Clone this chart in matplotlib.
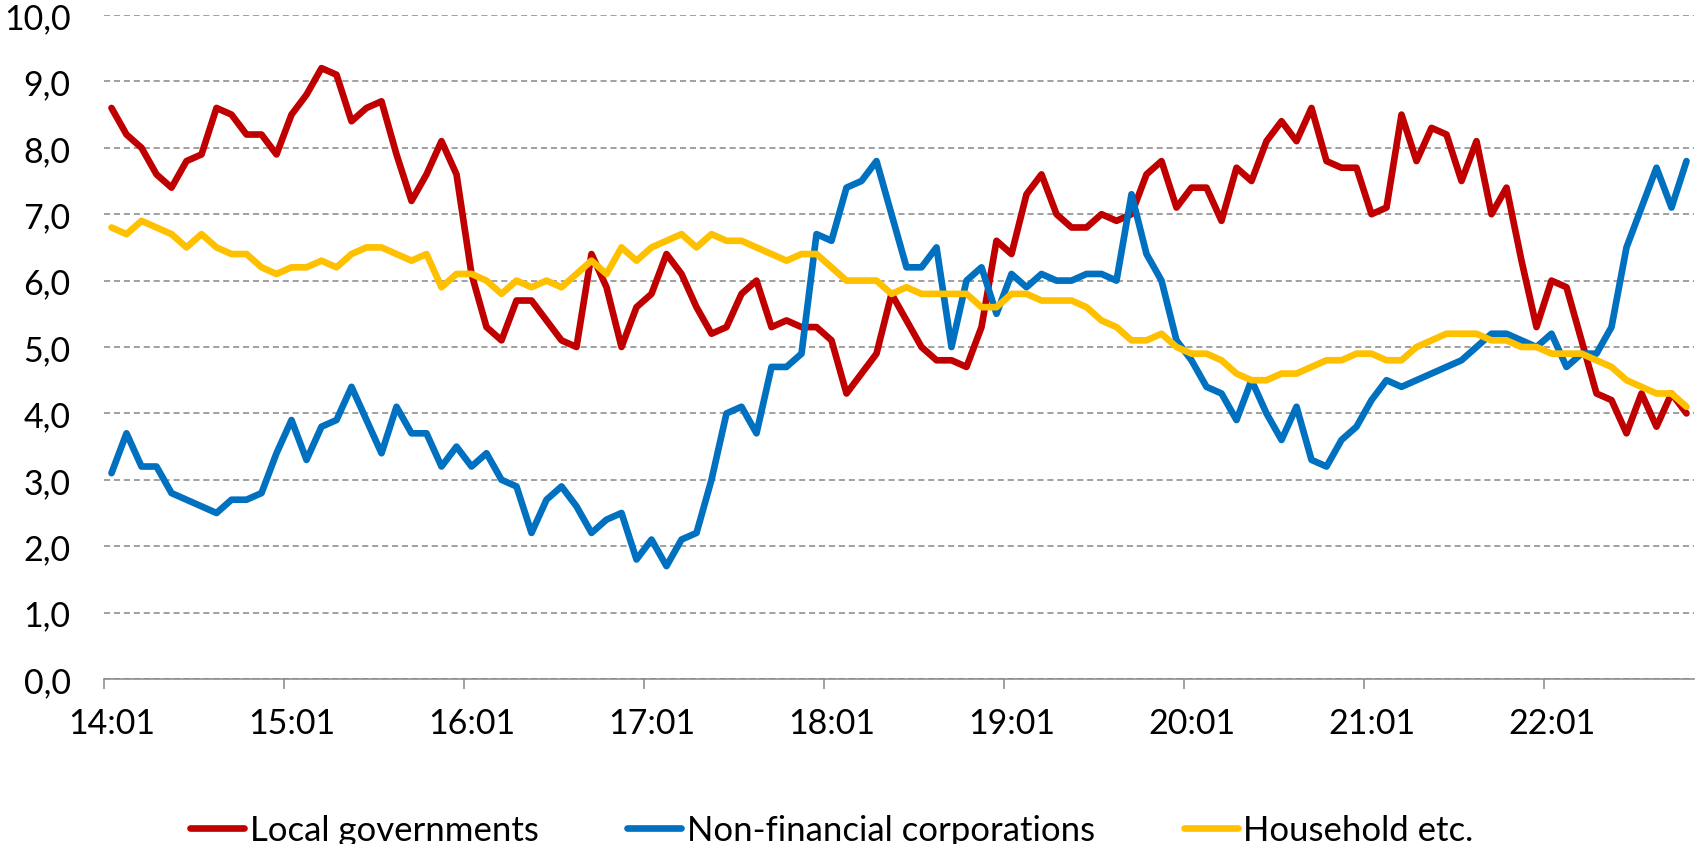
import numpy as np
import matplotlib.pyplot as plt

plt.rcParams['font.family'] = ['Lato', 'DejaVu Sans']

# monthly categories 14:01 .. 22:10
months = [f'{y:02d}:{m:02d}' for y in range(14, 23) for m in range(1, 13)][:106]

local_gov = [8.6, 8.2, 8.0, 7.6, 7.4, 7.8, 7.9, 8.6, 8.5, 8.2, 8.2, 7.9, 8.5, 8.8, 9.2, 9.1, 8.4, 8.6,
             8.7, 7.9, 7.2, 7.6, 8.1, 7.6, 6.1, 5.3, 5.1, 5.7, 5.7, 5.4, 5.1, 5.0, 6.4, 5.9, 5.0, 5.6,
             5.8, 6.4, 6.1, 5.6, 5.2, 5.3, 5.8, 6.0, 5.3, 5.4, 5.3, 5.3, 5.1, 4.3, 4.6, 4.9, 5.8, 5.4,
             5.0, 4.8, 4.8, 4.7, 5.3, 6.6, 6.4, 7.3, 7.6, 7.0, 6.8, 6.8, 7.0, 6.9, 7.0, 7.6, 7.8, 7.1,
             7.4, 7.4, 6.9, 7.7, 7.5, 8.1, 8.4, 8.1, 8.6, 7.8, 7.7, 7.7, 7.0, 7.1, 8.5, 7.8, 8.3, 8.2,
             7.5, 8.1, 7.0, 7.4, 6.3, 5.3, 6.0, 5.9, 5.1, 4.3, 4.2, 3.7, 4.3, 3.8, 4.3, 4.0]

non_fin = [3.1, 3.7, 3.2, 3.2, 2.8, 2.7, 2.6, 2.5, 2.7, 2.7, 2.8, 3.4, 3.9, 3.3, 3.8, 3.9, 4.4, 3.9,
           3.4, 4.1, 3.7, 3.7, 3.2, 3.5, 3.2, 3.4, 3.0, 2.9, 2.2, 2.7, 2.9, 2.6, 2.2, 2.4, 2.5, 1.8,
           2.1, 1.7, 2.1, 2.2, 3.0, 4.0, 4.1, 3.7, 4.7, 4.7, 4.9, 6.7, 6.6, 7.4, 7.5, 7.8, 7.0, 6.2,
           6.2, 6.5, 5.0, 6.0, 6.2, 5.5, 6.1, 5.9, 6.1, 6.0, 6.0, 6.1, 6.1, 6.0, 7.3, 6.4, 6.0, 5.1,
           4.8, 4.4, 4.3, 3.9, 4.5, 4.0, 3.6, 4.1, 3.3, 3.2, 3.6, 3.8, 4.2, 4.5, 4.4, 4.5, 4.6, 4.7,
           4.8, 5.0, 5.2, 5.2, 5.1, 5.0, 5.2, 4.7, 4.9, 4.9, 5.3, 6.5, 7.1, 7.7, 7.1, 7.8]

household = [6.8, 6.7, 6.9, 6.8, 6.7, 6.5, 6.7, 6.5, 6.4, 6.4, 6.2, 6.1, 6.2, 6.2, 6.3, 6.2, 6.4, 6.5,
             6.5, 6.4, 6.3, 6.4, 5.9, 6.1, 6.1, 6.0, 5.8, 6.0, 5.9, 6.0, 5.9, 6.1, 6.3, 6.1, 6.5, 6.3,
             6.5, 6.6, 6.7, 6.5, 6.7, 6.6, 6.6, 6.5, 6.4, 6.3, 6.4, 6.4, 6.2, 6.0, 6.0, 6.0, 5.8, 5.9,
             5.8, 5.8, 5.8, 5.8, 5.6, 5.6, 5.8, 5.8, 5.7, 5.7, 5.7, 5.6, 5.4, 5.3, 5.1, 5.1, 5.2, 5.0,
             4.9, 4.9, 4.8, 4.6, 4.5, 4.5, 4.6, 4.6, 4.7, 4.8, 4.8, 4.9, 4.9, 4.8, 4.8, 5.0, 5.1, 5.2,
             5.2, 5.2, 5.1, 5.1, 5.0, 5.0, 4.9, 4.9, 4.9, 4.8, 4.7, 4.5, 4.4, 4.3, 4.3, 4.1]

series = [('Local governments', local_gov, '#C00000'),
          ('Non-financial corporations', non_fin, '#0070C0'),
          ('Household etc.', household, '#FFC000')]

grid_col = '#868686'

fig = plt.figure(figsize=(16.96, 8.45), dpi=100)
ax = fig.add_axes([104 / 1696, 1 - 680 / 845, 1590 / 1696, 664 / 845])

x = np.arange(len(months))
for name, vals, col in series:
    ax.plot(x, vals, color=col, lw=4.8, label=name,
            solid_joinstyle='round', solid_capstyle='round')

ax.set_xlim(-0.5, len(months) - 0.5)
ax.set_ylim(0, 10)

# y axis: comma decimals, dashed grid
yt = np.arange(0, 11)
ax.set_yticks(yt)
ax.set_yticklabels([f'{v:.1f}'.replace('.', ',') for v in yt])
ax.yaxis.grid(True, color=grid_col, lw=1.1, linestyle=(0, (4, 2.5)))
ax.set_axisbelow(True)
ax.tick_params(axis='y', length=0, pad=24, labelsize=24.5)

# x axis: labels at every January, tick marks between categories
lab_pos = [i for i, m in enumerate(months) if m.endswith(':01')]
ax.set_xticks(lab_pos)
ax.set_xticklabels([months[i] for i in lab_pos])
ax.set_xticks([p - 0.5 for p in lab_pos], minor=True)
ax.tick_params(axis='x', which='major', length=0, pad=20, labelsize=24.5)
ax.tick_params(axis='x', which='minor', length=7, width=1.1, color=grid_col, direction='out')

for s in ['top', 'right', 'left']:
    ax.spines[s].set_visible(False)
ax.spines['bottom'].set_color(grid_col)
ax.spines['bottom'].set_linewidth(1.1)

fig.legend(loc='center', bbox_to_anchor=(0.4905, 0.016), ncol=3, frameon=False,
           fontsize=25, handlelength=1.56, handletextpad=0.16, columnspacing=2.55,
           borderpad=0)

plt.savefig('out.png', dpi=100)
plt.close()
